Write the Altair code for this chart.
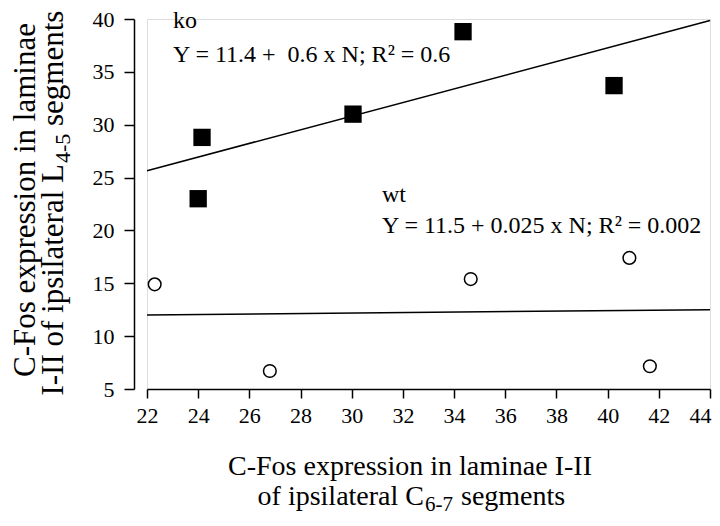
import altair as alt
import pandas as pd

# ---- data ----
ko_x = [24.15, 24.0, 30.05, 34.35, 40.25]
ko_y = [28.8, 23.0, 31.0, 38.8, 33.7]
wt_x = [22.3, 26.8, 34.65, 40.85, 41.65]
wt_y = [14.9, 6.7, 15.4, 17.4, 7.15]
fit_x = [22, 44]
ko_fit_y = [25.65, 39.85]
wt_fit_y = [12.0, 12.5]
x_ticks = [22, 24, 26, 28, 30, 32, 34, 36, 38, 40, 42, 44]
y_ticks = [5, 10, 15, 20, 25, 30, 35, 40]

FONT = "Liberation Serif"
LEFT, TOP = 147, 19          # absolute page position of the plot area
W, H = 563, 370
NB = "\u00a0"

pts = pd.DataFrame(
    {"x": ko_x + wt_x, "y": ko_y + wt_y, "g": ["ko"] * len(ko_x) + ["wt"] * len(wt_x)}
)
fits = pd.DataFrame(
    {"x": fit_x + fit_x, "y": ko_fit_y + wt_fit_y, "g": ["ko"] * 2 + ["wt"] * 2}
)

xs = alt.Scale(domain=[22, 44], nice=False, zero=False)
ys = alt.Scale(domain=[5, 40], nice=False, zero=False)

x_axis = alt.Axis(
    values=x_ticks, title=None, grid=False, domainColor="black", domainWidth=1.5,
    tickColor="black", tickWidth=1.5, tickSize=9, labelFont=FONT, labelFontSize=22,
    labelColor="black", labelPadding=7, labelFlush=False, labelOverlap=False,
    labelAlign={"condition": {"test": "datum.value == 44", "value": "right"}, "value": "center"},
    labelOffset={"condition": {"test": "datum.value == 44", "value": 1}, "value": 0},
)
y_axis = alt.Axis(
    values=y_ticks, title=None, grid=False, domainColor="black", domainWidth=1.5,
    tickColor="black", tickWidth=1.5, tickSize=10, labelFont=FONT, labelFontSize=22,
    labelColor="black", labelPadding=10, offset=13, labelFlush=False,
    labelOverlap=False,
)

ko_layer = (
    alt.Chart(pts[pts.g == "ko"])
    .mark_square(filled=True, color="black", size=300, opacity=1)
    .encode(x=alt.X("x:Q", scale=xs, axis=x_axis), y=alt.Y("y:Q", scale=ys, axis=y_axis))
)
wt_layer = (
    alt.Chart(pts[pts.g == "wt"])
    .mark_point(shape="circle", filled=False, color="black", strokeWidth=1.5, size=160, opacity=1)
    .encode(x=alt.X("x:Q", scale=xs), y=alt.Y("y:Q", scale=ys))
)
fit_layer = (
    alt.Chart(fits)
    .mark_line(color="black", strokeWidth=1.5)
    .encode(x=alt.X("x:Q", scale=xs), y=alt.Y("y:Q", scale=ys), detail="g:N")
)


def label(text, ax, ay, size=24, align="left", angle=0):
    # ax, ay: absolute page position; converted to plot-area coordinates
    return (
        alt.Chart(pd.DataFrame({"t": [text]}))
        .mark_text(font=FONT, fontSize=size, color="black", align=align,
                   baseline="alphabetic", angle=angle)
        .encode(x=alt.value(ax - LEFT), y=alt.value(ay - TOP), text="t:N")
    )


ann = [
    label("ko", 173, 28),
    label("Y = 11.4 +" + NB + " 0.6 x N; R\u00b2 = 0.6", 173, 62),
    label("wt", 382, 202),
    label("Y = 11.5 + 0.025 x N; R\u00b2 = 0.002", 382, 233),
    # x-axis title
    label("C-Fos expression in laminae I-II", 410, 475, size=28, align="center"),
    label("of ipsilateral C", 424, 505, size=28, align="right"),
    label("6-7", 425, 511, size=21, align="left"),
    label("segments", 461, 505, size=28, align="left"),
    # y-axis title (rotated)
    label("C-Fos expression in laminae", 35, 200, size=31, align="center", angle=270),
    label("I-II of ipsilateral L", 63, 164, size=31, align="right", angle=270),
    label("4-5", 70, 163, size=22, align="left", angle=270),
    label("segments", 63, 126, size=31, align="left", angle=270),
]

chart = (
    alt.layer(fit_layer, ko_layer, wt_layer, *ann)
    .properties(
        width=W, height=H,
        autosize=alt.AutoSizeParams(type="none"),
        padding={"left": LEFT - 8, "top": TOP - 8, "right": 2, "bottom": 127},
    )
    .configure_view(stroke=None)
    .configure(background="white")
)

chart.save("out.html", embed_options={"renderer": "svg", "actions": False})
